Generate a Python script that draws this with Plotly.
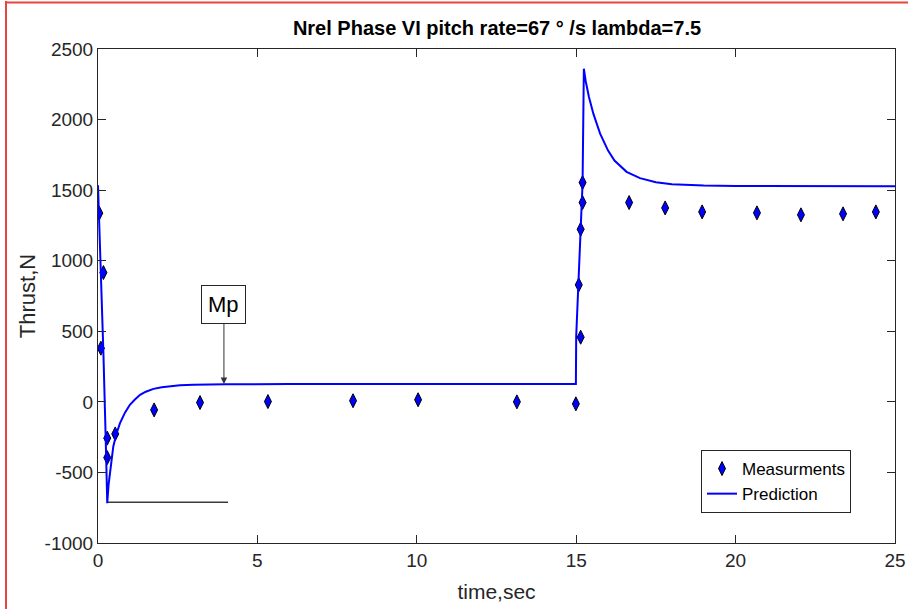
import plotly.graph_objects as go

# Measured thrust (markers)
meas_t = [0.04, 0.17, 0.09, 0.29, 0.29, 0.54, 1.76, 3.2, 5.33, 8.0, 10.04, 13.14,
          14.99, 15.14, 15.08, 15.14, 15.2, 15.2, 16.66, 17.79, 18.95, 20.67, 22.05, 23.37, 24.4]
meas_v = [1337, 916, 380, -257, -395, -227, -57, -5, 2, 8, 15, 0,
          -14, 458, 829, 1223, 1412, 1554, 1412, 1374, 1346, 1339, 1325, 1332, 1346]

# Predicted thrust (line)
pred_t = [0.0, 0.09, 0.17, 0.24, 0.29, 0.33, 0.38, 0.43, 0.48, 0.58, 0.69, 0.85, 1.0, 1.15,
          1.32, 1.5, 1.74, 2.0, 2.15, 2.57, 3.0, 3.5, 4.0, 6.0, 10.0, 14.99,
          15.0, 15.07, 15.14, 15.2, 15.24, 15.3, 15.4, 15.54, 15.75, 16.0, 16.2, 16.58,
          17.0, 17.5, 18.0, 19.0, 20.0, 22.0, 25.0]
pred_v = [1535, 935, 345, -246, -718, -590, -482, -390, -316, -225, -151, -75, -21, 15,
          50, 72, 92, 103, 108, 118, 122, 124, 125, 126, 126, 126,
          463, 841, 1219, 1550, 2360, 2270, 2160, 2040, 1900, 1780, 1710, 1630,
          1585, 1556, 1542, 1533, 1530, 1528, 1528]

# Reference line from the minimum
ref_t = [0.29, 4.08]
ref_v = [-712, -712]

# Annotation "Mp"
mp_t = 3.95
mp_v = 126

x_ticks = [0, 5, 10, 15, 20, 25]
x_labels = ["0", "5", "10", "15", "20", "25"]
y_ticks = [-1000, -500, 0, 500, 1000, 1500, 2000, 2500]
y_labels = ["-1000", "-500", "0", "500", "1000", "1500", "2000", "2500"]

AX = "#262626"
FONT = "Liberation Sans, Arial, sans-serif"

fig = go.Figure()
fig.add_trace(go.Scatter(
    x=ref_t, y=ref_v, mode="lines", showlegend=False,
    line=dict(color="#3a3a3a", width=1.5), hoverinfo="skip"))
fig.add_trace(go.Scatter(
    x=meas_t, y=meas_v, mode="markers", name="Measurments", legendgroup="a",
    marker=dict(symbol="diamond-tall", size=10, color="#0000ff",
                line=dict(color="#000000", width=1))))
fig.add_trace(go.Scatter(
    x=pred_t, y=pred_v, mode="lines", name="Prediction", legendgroup="b",
    line=dict(color="#0000ff", width=2)))

W, H = 908, 609
L, R, T, B = 98, 13, 49, 66
pw, ph = W - L - R, H - T - B

def px(x):
    return (x - L) / pw

def py(y):
    return (H - B - y) / ph

fig.add_shape(type="line", xref="paper", yref="paper",
              x0=px(6), x1=px(6), y0=py(1), y1=py(H), line=dict(color="#e8453c", width=2))
fig.add_shape(type="line", xref="paper", yref="paper",
              x0=px(5), x1=px(W), y0=py(2.5), y1=py(2.5), line=dict(color="#e8453c", width=2))

fig.add_annotation(x=mp_t, y=mp_v, text="Mp", showarrow=True, ax=0, ay=-80,
                   arrowhead=2, arrowsize=1.3, arrowwidth=1, arrowcolor="#333333",
                   font=dict(family=FONT, size=22, color="#000000"),
                   bordercolor="#262626", borderwidth=1, borderpad=6, bgcolor="white")

fig.update_layout(
    width=W, height=H,
    margin=dict(l=L, r=R, t=T, b=B, autoexpand=False),
    paper_bgcolor="white", plot_bgcolor="white",
    font=dict(family=FONT, color=AX),
    title=dict(text="<b>Nrel Phase VI pitch rate=67 ° /s lambda=7.5</b>",
               x=px(497), xref="paper", xanchor="center",
               y=(H - 28) / H, yref="container", yanchor="middle",
               font=dict(family=FONT, size=20, color="#000000")),
    xaxis=dict(range=[0, 25], tickvals=x_ticks, ticktext=x_labels, ticks="inside", ticklen=8,
               tickcolor=AX, showline=True, linecolor=AX, linewidth=1, mirror="ticks",
               showgrid=False, zeroline=False,
               tickfont=dict(family=FONT, size=19, color=AX),
               title=dict(text="time,sec", standoff=14,
                          font=dict(family=FONT, size=21, color=AX))),
    yaxis=dict(range=[-1000, 2500], tickvals=y_ticks, ticktext=y_labels, ticks="inside", ticklen=8,
               tickcolor=AX, showline=True, linecolor=AX, linewidth=1, mirror="ticks",
               showgrid=False, zeroline=False,
               tickfont=dict(family=FONT, size=19, color=AX),
               title=dict(text="Thrust,N", standoff=2,
                          font=dict(family=FONT, size=22, color=AX))),
    legend=dict(x=px(851), y=py(513), xanchor="right", yanchor="bottom",
                bordercolor=AX, borderwidth=1, bgcolor="white",
                font=dict(family=FONT, size=17, color="#000000"),
                tracegroupgap=0),
)

fig.write_html("out.html")
